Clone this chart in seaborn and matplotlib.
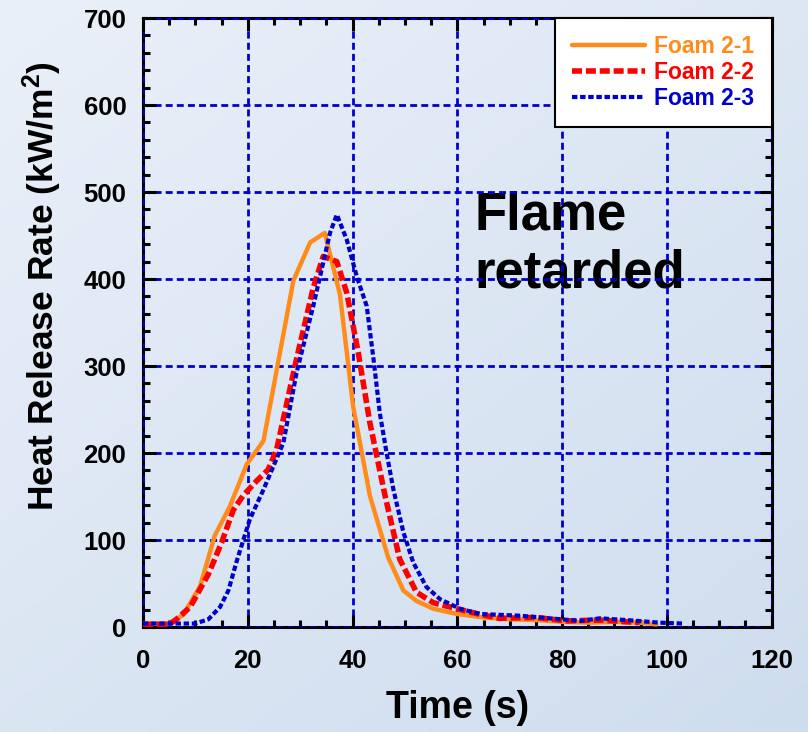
import numpy as np
import pandas as pd
import matplotlib
matplotlib.use("Agg")
import matplotlib.pyplot as plt
from matplotlib.ticker import MultipleLocator
import seaborn as sns

# === data ===
t_21 = [0, 5, 7.7, 10.9, 13.7, 16.6, 19.8, 23, 28.7, 31.9, 34.7, 37.6, 40.1, 43.3,
        46.8, 49.7, 52.2, 55.4, 59.9, 65, 70, 75, 80, 85, 90, 95, 98]
hrr_21 = [4, 4, 14, 47, 105, 139, 187, 214, 398, 442, 453, 382, 254, 151,
          80, 42, 30, 21, 15, 11, 9, 8, 6, 5, 6, 5, 3]

t_22 = [0, 5, 6.4, 9, 12.5, 15, 17.2, 19.1, 21.7, 23.9, 25.5, 29.3, 32.5, 34.4, 37,
        38.9, 41.1, 43.3, 46.2, 49, 52.2, 55.4, 59.9, 64, 68, 75, 80.8, 87.2, 94.8]
hrr_22 = [3, 3, 9, 23, 61, 97, 134, 151, 168, 181, 204, 308, 390, 426, 420,
          384, 315, 235, 151, 78, 40, 28, 21, 15, 10, 11, 7, 8, 5]

t_23 = [0, 10, 12.5, 14.7, 16.3, 17.9, 20.4, 23, 24.9, 26.8, 29.3, 32.5, 35.7, 37,
        38.9, 40.8, 42.7, 44, 45.2, 46.5, 47.8, 49.7, 51.6, 54.1, 56.7, 60.5, 64.3,
        72, 79.6, 83.4, 87.2, 92.3, 98.7, 103]
hrr_23 = [4, 4, 9, 23, 42, 76, 124, 158, 185, 212, 292, 369, 453, 474,
          445, 403, 369, 308, 246, 200, 158, 109, 74, 46, 32, 21, 15,
          13, 9, 7, 10, 8, 5, 4]

labels = ["Foam 2-1", "Foam 2-2", "Foam 2-3"]
colors = ["#ff8c1a", "#ff0000", "#0000cc"]
styles = ["-", (0, (1.8, 0.7)), (0, (1.3, 0.65))]
widths = [3.2, 4, 3]

# === style ===
sns.set_style("ticks")
plt.rcParams["font.family"] = ["Liberation Sans", "DejaVu Sans"]
plt.rcParams["font.weight"] = "bold"
plt.rcParams["text.color"] = "black"
plt.rcParams["axes.labelcolor"] = "black"
plt.rcParams["xtick.color"] = "black"
plt.rcParams["ytick.color"] = "black"
plt.rcParams["mathtext.fontset"] = "custom"
plt.rcParams["mathtext.rm"] = "Liberation Sans:bold"
plt.rcParams["mathtext.it"] = "Liberation Sans:bold"
plt.rcParams["mathtext.bf"] = "Liberation Sans:bold"
plt.rcParams["mathtext.default"] = "rm"

fig = plt.figure(figsize=(8.08, 7.32), dpi=100)

# light blue gradient background
bg = fig.add_axes([0, 0, 1, 1], zorder=-10)
gx, gy = np.meshgrid(np.linspace(0, 1, 200), np.linspace(0, 1, 200))
g = 0.55 * gy + 0.45 * gx
c0 = np.array([234, 240, 249]) / 255
c1 = np.array([206, 221, 238]) / 255
img = c0[None, None, :] * (1 - g[..., None]) + c1[None, None, :] * g[..., None]
bg.imshow(img, aspect="auto", extent=[0, 1, 0, 1], origin="upper")
bg.axis("off")

ax = fig.add_axes([0.177, 0.1434, 0.778, 0.832])
ax.set_facecolor("none")

series = [(t_21, hrr_21), (t_22, hrr_22), (t_23, hrr_23)]
for (tt, hh), lab, col, ls, lw in zip(series, labels, colors, styles, widths):
    df = pd.DataFrame({"time": tt, "hrr": hh})
    sns.lineplot(data=df, x="time", y="hrr", ax=ax, color=col, linestyle=ls,
                 linewidth=lw, label=lab, estimator=None, zorder=3)

ax.set_xlim(0, 120)
ax.set_ylim(0, 700)
ax.xaxis.set_major_locator(MultipleLocator(20))
ax.xaxis.set_minor_locator(MultipleLocator(5))
ax.yaxis.set_major_locator(MultipleLocator(100))
ax.yaxis.set_minor_locator(MultipleLocator(20))

ax.set_axisbelow(False)
ax.grid(True, which="major", color="#0000cc", linestyle=(0, (2.5, 1.5)), linewidth=2)

for sp in ax.spines.values():
    sp.set_visible(True)
    sp.set_linewidth(2.2)
    sp.set_color("black")

ax.tick_params(which="both", direction="in", top=True, right=True, color="black")
ax.tick_params(which="major", length=9, width=2.2, labelsize=18.5)
ax.tick_params(which="minor", length=5, width=2.2)
ax.tick_params(axis="x", which="major", pad=16)
ax.tick_params(axis="y", which="major", pad=12)

ax.set_xlabel("Time (s)", fontsize=27, fontweight="bold", labelpad=12)
ax.set_ylabel(r"Heat Release Rate (kW/m$^2$)", fontsize=25.5, fontweight="bold",
              labelpad=14, y=0.56)

ax.text(63.2, 502, "Flame\nretarded", fontsize=38, fontweight="bold", color="black",
        ha="left", va="top", linespacing=1.2, zorder=1)

handles, labs = ax.get_legend_handles_labels()
leg = ax.legend(handles, labs, loc="upper right", borderaxespad=0, fontsize=16.5,
                frameon=True, fancybox=False, framealpha=1, edgecolor="black",
                labelcolor="linecolor", handlelength=3.2, handletextpad=0.4,
                borderpad=0.75, labelspacing=0.12)
leg.get_frame().set_linewidth(1.5)
leg.set_zorder(5)

fig.savefig("out.png", dpi=100)
